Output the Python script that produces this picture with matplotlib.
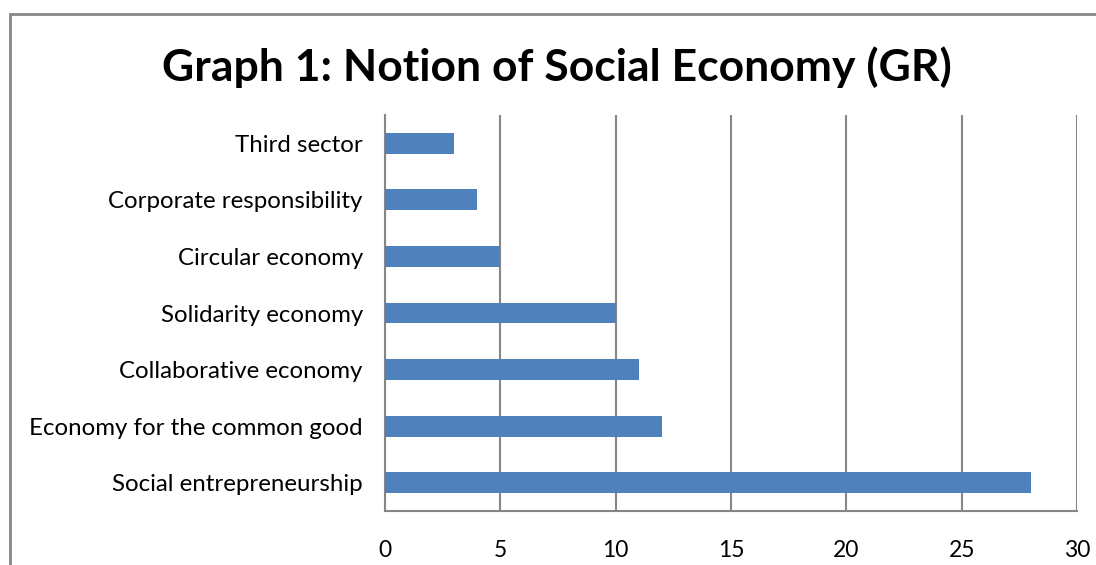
import matplotlib.pyplot as plt
from matplotlib.patches import Rectangle

categories = ['Social entrepreneurship', 'Economy for the common good',
              'Collaborative economy', 'Solidarity economy',
              'Circular economy', 'Corporate responsibility', 'Third sector']
values = [28, 12, 11, 10, 5, 4, 3]
xticks = [0, 5, 10, 15, 20, 25, 30]

plt.rcParams['font.family'] = ['Lato', 'DejaVu Sans']

fig = plt.figure(figsize=(10.96, 5.65), dpi=100)
ax = fig.add_axes([385 / 1096, 1 - 511 / 565, 692 / 1096, 396 / 565])

# outer chart frame, runs past the right and bottom edges
fig.patches.append(Rectangle((9.5 / 1096, -0.1), 1.2, 1 - 14 / 565 + 0.1,
                             transform=fig.transFigure, fill=False,
                             edgecolor='#878787', linewidth=2))

ax.barh(range(len(values)), values, height=0.37, color='#4F81BD', zorder=3)

ax.set_xlim(0, 30)
ax.set_ylim(-0.5, len(values) - 0.5)
ax.set_xticks(xticks)
ax.set_xticklabels([str(t) for t in xticks], fontsize=16.5)
ax.set_yticks(range(len(categories)))
ax.set_yticklabels(categories, fontsize=17.3)
ax.tick_params(axis='x', length=0, pad=21)
ax.tick_params(axis='y', length=0, pad=16)
ax.grid(axis='x', color='#868686', linewidth=1.5, zorder=0)

for s in ['top', 'right']:
    ax.spines[s].set_visible(False)
for s in ['left', 'bottom']:
    ax.spines[s].set_color('#868686')
    ax.spines[s].set_linewidth(1.5)

fig.text(0.508, 1 - 67 / 565, 'Graph 1: Notion of Social Economy (GR)',
         ha='center', va='center', fontsize=32, fontweight='bold')

fig.savefig('out.png', dpi=100)
